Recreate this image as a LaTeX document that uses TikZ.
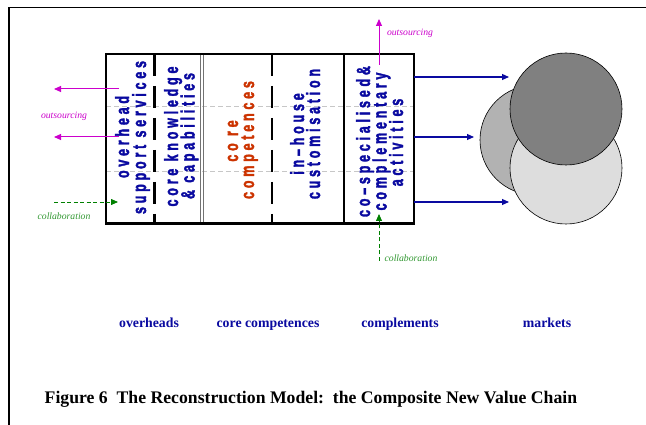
\documentclass[tikz,border=0pt]{standalone}
\usepackage{fontspec}
\usepackage{graphicx}
\setmainfont{Liberation Serif}
\newfontfamily\colfont[LetterSpace=30,FakeBold=2.5]{Liberation Sans Bold}
\usetikzlibrary{arrows.meta}
\definecolor{navy}{RGB}{10,10,160}
\definecolor{rust}{RGB}{204,51,0}
\definecolor{magen}{RGB}{204,0,204}
\definecolor{grn}{RGB}{0,128,0}
\definecolor{grnlbl}{RGB}{51,153,51}
\definecolor{cmed}{RGB}{178,178,178}
\definecolor{cdark}{RGB}{128,128,128}
\definecolor{clight}{RGB}{221,221,221}
\newcommand\sqz[1]{\scalebox{0.66}[1]{#1}}
\tikzset{
  coltext/.style={font=\colfont\fontsize{19}{19}\selectfont, text=navy, rotate=90, anchor=base, inner sep=0pt},
  coltextor/.style={coltext, text=rust},
  smalllbl/.style={font=\fontsize{9.7}{10}\selectfont\itshape, inner sep=0pt},
  bottomlbl/.style={font=\fontsize{13.8}{14}\selectfont\bfseries, text=navy, anchor=base, inner sep=0pt},
  magarrow/.style={draw=magen, line width=1pt, -{Triangle[length=7pt,width=6pt]}},
  grnarrow/.style={draw=grn, line width=0.8pt, dash pattern=on 4pt off 2.5pt, -{Triangle[length=7pt,width=6pt]}},
  bluearrow/.style={draw=navy, line width=1.1pt, -{Triangle[length=7pt,width=6pt]}},
  graydash/.style={draw=black!22, line width=1pt, dash pattern=on 5pt off 3pt},
  blackdash/.style={draw=black, line width=2.3pt, dash pattern=on 22pt off 10pt},
  circ/.style={draw=black, line width=0.6pt}
}
\begin{document}
\begin{tikzpicture}[x=1pt,y=-1pt]
\useasboundingbox (0,0) rectangle (646,425);
\fill[white] (0,0) rectangle (646,425);
% page frame
\draw[line width=1.3pt] (9,425) -- (9,7.5) -- (646,7.5);
% gray dashed horizontal guides
\draw[graydash] (106,107) -- (414,107);
\draw[graydash] (106,172) -- (414,172);
% dividers
\draw[blackdash] (154.5,54) -- (154.5,224);
\draw[blackdash] (272,54) -- (272,224);
\draw[draw=black!55, line width=0.9pt] (200.5,54) -- (200.5,224);
\draw[draw=black!55, line width=0.9pt] (203.2,54) -- (203.2,224);
\draw[line width=2.3pt] (344,54) -- (344,224);
% main box
\draw[line width=2.3pt] (106,54) rectangle (414,223.5);
% column texts
\node[coltext] (t1a) at (129,137) {\sqz{overhead}};
\node[coltext] (t1b) at (146,137.5) {\sqz{support services}};
\node[coltext] (t2a) at (178,136.5) {\sqz{core knowledge}};
\node[coltext] (t2b) at (194.5,136) {\sqz{\& capabilities}};
\node[coltextor] (t3a) at (238,141) {\sqz{co re}};
\node[coltextor] (t3b) at (254,140) {\sqz{competences}};
\node[coltext] (t4a) at (304,134) {\sqz{in–house}};
\node[coltext] (t4b) at (320,134) {\sqz{customisation}};
\node[coltext] (t5a) at (370,141.5) {\sqz{co–specialised\&}};
\node[coltext] (t5b) at (386.5,141.5) {\sqz{complementary}};
\node[coltext] (t5c) at (403,142.5) {\sqz{activities}};
% circles (markets)
\filldraw[circ, fill=cmed] (535,140) circle (55);
\filldraw[circ, fill=clight] (566,168) circle (56);
\filldraw[circ, fill=cdark] (566,109) circle (56);
% arrow end points
\coordinate (oa1s) at (119,89);   \coordinate (oa1e) at (54,89);
\coordinate (oa2s) at (119,137);  \coordinate (oa2e) at (54,137);
\coordinate (cl1s) at (54,202);   \coordinate (cl1e) at (118,202);
\coordinate (ou2s) at (379,65);   \coordinate (ou2e) at (379,19);
\coordinate (cl2s) at (379,261);  \coordinate (cl2e) at (379,214);
\coordinate (b1s) at (414,77);    \coordinate (b1e) at (509,77);
\coordinate (b2s) at (414,137);   \coordinate (b2e) at (474,137);
\coordinate (b3s) at (414,202);   \coordinate (b3e) at (509,202);
\draw[magarrow] (oa1s) -- (oa1e);
\draw[magarrow] (oa2s) -- (oa2e);
\draw[grnarrow] (cl1s) -- (cl1e);
\draw[magarrow] (ou2s) -- (ou2e);
\draw[grnarrow] (cl2s) -- (cl2e);
\draw[bluearrow] (b1s) -- (b1e);
\draw[bluearrow] (b2s) -- (b2e);
\draw[bluearrow] (b3s) -- (b3e);
% small labels
\node[smalllbl, text=magen] (lo1) at (64,116) {outsourcing};
\node[smalllbl, text=grnlbl] (lc1) at (64,216) {collaboration};
\node[smalllbl, text=magen] (lo2) at (410,33) {outsourcing};
\node[smalllbl, text=grnlbl] (lc2) at (411,258) {collaboration};
% bottom labels
\node[bottomlbl] (bl1) at (149,327) {overheads};
\node[bottomlbl] (bl2) at (268,327) {core competences};
\node[bottomlbl] (bl3) at (400,327) {complements};
\node[bottomlbl] (bl4) at (547,327) {markets};
% caption
\node[font=\fontsize{17.7}{18}\selectfont\bfseries, anchor=base west, inner sep=0pt] (cap) at (44.5,403) {Figure 6\ \ The Reconstruction Model:\ \ the Composite New Value Chain};
\end{tikzpicture}
\end{document}
